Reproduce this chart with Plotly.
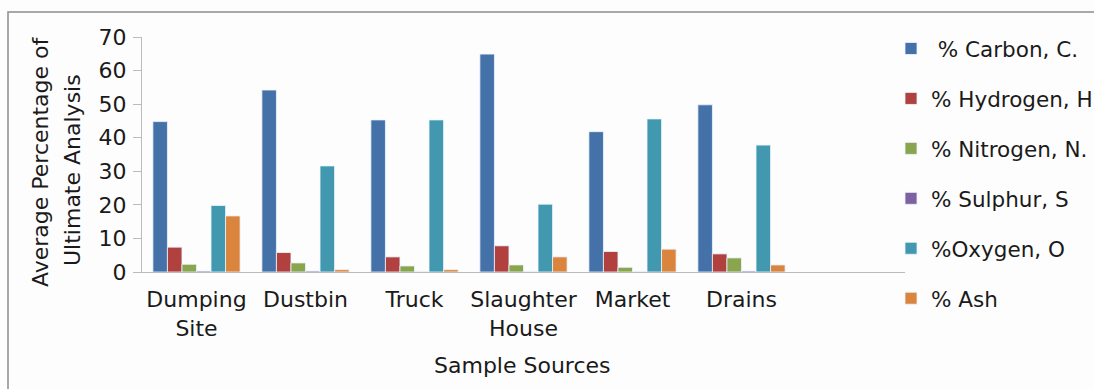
import plotly.graph_objects as go

categories = ["Dumping<br>Site", "Dustbin", "Truck", "Slaughter<br>House", "Market", "Drains"]
empty_slot = [" "]

series_names = [" % Carbon, C.", "% Hydrogen, H", "% Nitrogen, N.", "% Sulphur, S", "%Oxygen, O", "% Ash"]
carbon = [44.8, 54.2, 45.3, 64.9, 41.8, 49.8]
hydrogen = [7.4, 5.8, 4.5, 7.8, 6.1, 5.4]
nitrogen = [2.3, 2.7, 1.8, 2.1, 1.4, 4.2]
sulphur = [0.3, 0.3, 0.05, 0.05, 0.05, 0.3]
oxygen = [19.8, 31.6, 45.3, 20.2, 45.6, 37.8]
ash = [16.7, 0.7, 0.7, 4.5, 6.8, 2.1]

colors = ["#4471A7", "#B0413E", "#89A54E", "#7E62A0", "#4198AF", "#DB843D"]
y_ticks = [0, 10, 20, 30, 40, 50, 60, 70]

W, H = 1094, 389
L, R, T, B = 142, 189, 37, 117
pw, ph = W - L - R, H - T - B

def px_x(p):
    return (p - L) / pw

def px_y(p):
    return (H - B - p) / ph

fig = go.Figure()
for i, (name, vals) in enumerate(zip(series_names, [carbon, hydrogen, nitrogen, sulphur, oxygen, ash])):
    fig.add_trace(go.Bar(
        x=categories, y=vals, name=name, legendgroup=f"g{i}",
        marker=dict(color=colors[i], line=dict(color="rgba(235,245,255,0.8)", width=1)),
    ))

font_family = "DejaVu Sans, Liberation Sans, Arial, sans-serif"
fs = 22
fig.update_layout(
    width=W, height=H,
    margin=dict(l=L, r=R, t=T, b=B, autoexpand=False),
    paper_bgcolor="#FDFDFD", plot_bgcolor="#FDFDFD",
    barmode="group", bargap=0.2, bargroupgap=0,
    font=dict(family=font_family, size=fs, color="#1a1a1a"),
    showlegend=True,
    legend=dict(x=px_x(891), y=px_y(28), xanchor="left", yanchor="top",
                font=dict(size=21.5), tracegroupgap=19, bgcolor="rgba(0,0,0,0)",
                itemwidth=30, maxheight=400),
    xaxis=dict(categoryorder="array", categoryarray=categories + empty_slot,
               range=[-0.5, 6.5], showline=True, linecolor="#BBBBBB", linewidth=1,
               ticks="", showgrid=False, tickfont=dict(size=fs), ticklabelstandoff=8),
    yaxis=dict(range=[0, 70], tickvals=y_ticks, showline=True, linecolor="#BBBBBB", linewidth=1,
               ticks="outside", ticklen=8, tickcolor="#BBBBBB", showgrid=False,
               zeroline=False, tickfont=dict(size=fs), ticklabelstandoff=2),
    shapes=[dict(type="rect", xref="paper", yref="paper",
                 x0=px_x(8), x1=px_x(1110), y0=px_y(400), y1=px_y(12),
                 line=dict(color="#8C8C8C", width=1.5), layer="below")],
    annotations=[
        dict(text="Average Percentage of", xref="paper", yref="paper", x=px_x(40), y=px_y(162),
             textangle=-90, showarrow=False, xanchor="center", yanchor="middle", font=dict(size=fs)),
        dict(text="Ultimate Analysis", xref="paper", yref="paper", x=px_x(72), y=px_y(170),
             textangle=-90, showarrow=False, xanchor="center", yanchor="middle", font=dict(size=fs)),
        dict(text="Sample Sources", xref="paper", yref="paper", x=px_x(522), y=px_y(365),
             showarrow=False, xanchor="center", yanchor="middle", font=dict(size=fs)),
    ],
)

fig.write_html("out.html")
